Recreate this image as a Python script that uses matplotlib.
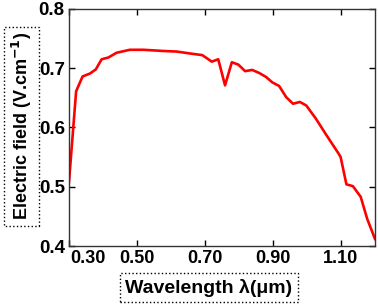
import matplotlib.pyplot as plt
import matplotlib.transforms as mtransforms

plt.rcParams['font.family'] = ['Liberation Sans', 'DejaVu Sans']
plt.rcParams['font.weight'] = 'bold'

# wavelength (um) and electric field (V/cm)
wavelength = [0.300, 0.321, 0.340, 0.362, 0.379, 0.396, 0.416, 0.440, 0.479,
              0.519, 0.577, 0.617, 0.653, 0.692, 0.720, 0.739, 0.759, 0.779,
              0.798, 0.818, 0.839, 0.859, 0.880, 0.898, 0.918, 0.939, 0.959,
              0.979, 0.998, 1.026, 1.055, 1.094, 1.099, 1.116, 1.135, 1.158,
              1.177, 1.200]
field = [0.508, 0.661, 0.686, 0.691, 0.698, 0.715, 0.718, 0.726, 0.731,
         0.731, 0.729, 0.728, 0.725, 0.722, 0.711, 0.715, 0.671, 0.710,
         0.706, 0.695, 0.697, 0.692, 0.685, 0.676, 0.670, 0.651, 0.640,
         0.643, 0.637, 0.615, 0.589, 0.555, 0.550, 0.504, 0.501, 0.483,
         0.446, 0.412]

x_ticks = [0.30, 0.50, 0.70, 0.90, 1.10]
x_tick_labels = ['0.30', '0.50', '0.70', '0.90', '1.10']
y_ticks = [0.4, 0.5, 0.6, 0.7, 0.8]
y_tick_labels = ['0.4', '0.5', '0.6', '0.7', '0.8']

fig = plt.figure(figsize=(3.78, 3.06), dpi=100)
ax = fig.add_axes([0.1825, 0.196, 0.8095, 0.775])

ax.plot(wavelength, field, color='#ff0000', lw=1.9)

ax.set_xlim(0.30, 1.20)
ax.set_ylim(0.4, 0.8)
ax.set_xticks(x_ticks)
ax.set_xticklabels(x_tick_labels, fontsize=13, fontweight='bold')
ax.set_yticks(y_ticks)
ax.set_yticklabels(y_tick_labels, fontsize=13.5, fontweight='bold')
ax.tick_params(direction='in', length=4, width=1, top=True, right=True, pad=3)

for s in ax.spines.values():
    s.set_linewidth(1.0)
    s.set_color('#333333')

# first x label sits to the right of the axis corner
shift = mtransforms.ScaledTranslation(19 / 100, 0, fig.dpi_scale_trans)
lbl = ax.get_xticklabels()[0]
lbl.set_transform(lbl.get_transform() + shift)

box = dict(boxstyle='square,pad=0.3', fc='white', ec='black', ls=':', lw=1)
fig.text(0.058, 0.588, 'Electric field (V.cm$^{\\mathsf{-1}}$)', rotation=90,
         ha='center', va='center', fontsize=13, fontweight='bold', bbox=box)
fig.text(0.553, 0.060, 'Wavelength λ(μm)', ha='center', va='center',
         fontsize=14, fontweight='bold', bbox=box)

plt.savefig('out.png', dpi=100)
